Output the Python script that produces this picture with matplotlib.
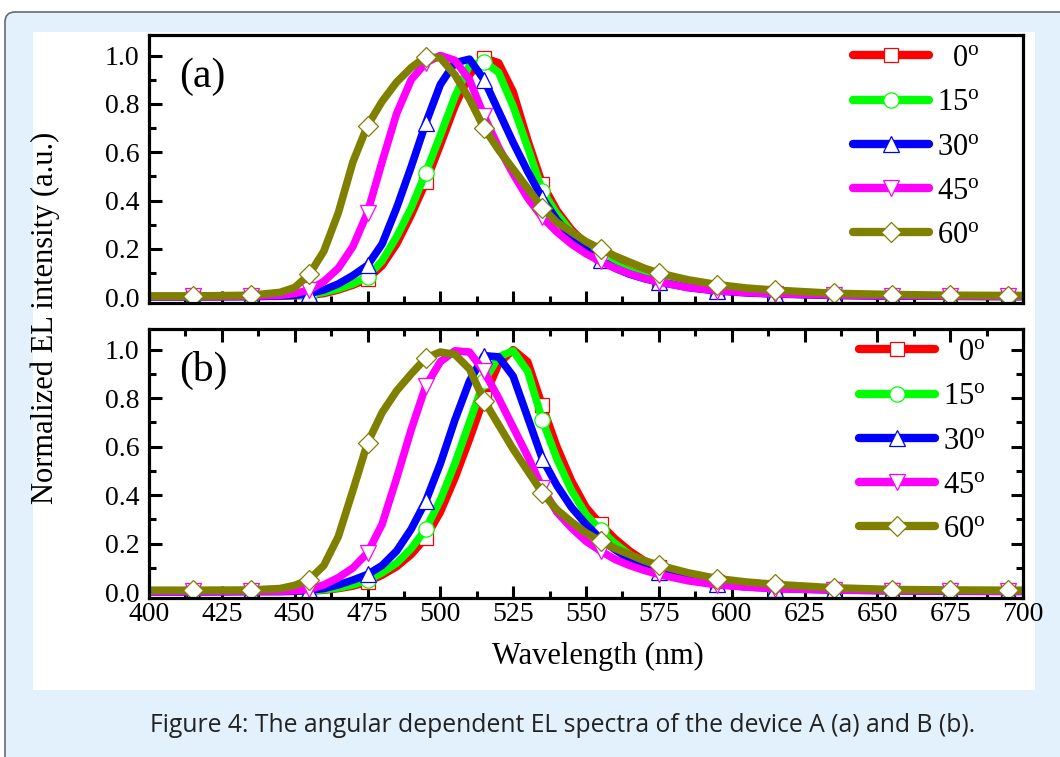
import matplotlib
matplotlib.use("Agg")
import matplotlib.pyplot as plt
from matplotlib.lines import Line2D
from matplotlib.patches import FancyBboxPatch, Rectangle
from matplotlib.transforms import IdentityTransform
from matplotlib.ticker import MultipleLocator

plt.rcParams['font.family'] = ['Liberation Serif', 'DejaVu Serif']
plt.rcParams['mathtext.fontset'] = 'custom'
plt.rcParams['mathtext.rm'] = 'Liberation Serif'
plt.rcParams['mathtext.it'] = 'Liberation Serif:italic'

# ---------------- data ----------------
wavelength = [400, 415, 435, 445, 450, 455, 460, 465, 470, 475, 480, 485, 490, 495, 500,
              505, 510, 515, 520, 525, 530, 535, 540, 545, 550, 555, 560, 565, 570, 575,
              585, 595, 605, 615, 635, 655, 675, 695, 700]
marker_wavelengths = [415, 435, 455, 475, 495, 515, 535, 555, 575, 595, 615, 635, 655, 675, 695]
angle_labels = ['  0$^{\\rm o}$', '15$^{\\rm o}$', '30$^{\\rm o}$', '45$^{\\rm o}$', '60$^{\\rm o}$']

a_0 = [0.002, 0.002, 0.003, 0.004, 0.006, 0.008, 0.015, 0.03, 0.05, 0.075, 0.13, 0.22, 0.34, 0.475, 0.63,
       0.79, 0.92, 0.99, 0.97, 0.85, 0.65, 0.47, 0.36, 0.28, 0.22, 0.175, 0.14, 0.11, 0.09, 0.073,
       0.047, 0.031, 0.021, 0.015, 0.008, 0.005, 0.004, 0.003, 0.003]
a_15 = [0.002, 0.002, 0.003, 0.005, 0.007, 0.01, 0.02, 0.035, 0.055, 0.085, 0.15, 0.25, 0.37, 0.515, 0.67,
        0.83, 0.96, 0.975, 0.93, 0.79, 0.62, 0.44, 0.345, 0.27, 0.21, 0.17, 0.135, 0.108, 0.087, 0.07,
        0.045, 0.03, 0.02, 0.014, 0.008, 0.005, 0.004, 0.003, 0.003]
a_30 = [0.002, 0.002, 0.003, 0.005, 0.008, 0.015, 0.03, 0.055, 0.09, 0.132, 0.22, 0.37, 0.54, 0.72, 0.88,
        0.97, 0.985, 0.90, 0.77, 0.64, 0.52, 0.41, 0.32, 0.25, 0.195, 0.152, 0.12, 0.095, 0.077, 0.063,
        0.04, 0.026, 0.018, 0.013, 0.008, 0.005, 0.004, 0.003, 0.003]
a_45 = [0.003, 0.003, 0.004, 0.008, 0.015, 0.03, 0.065, 0.12, 0.21, 0.35, 0.56, 0.76, 0.90, 0.97, 1.0,
        0.98, 0.90, 0.75, 0.62, 0.51, 0.41, 0.33, 0.27, 0.22, 0.18, 0.148, 0.12, 0.097, 0.078, 0.063,
        0.04, 0.027, 0.019, 0.014, 0.009, 0.006, 0.005, 0.004, 0.004]
a_60 = [0.005, 0.005, 0.008, 0.02, 0.04, 0.094, 0.19, 0.35, 0.56, 0.71, 0.81, 0.89, 0.95, 0.995, 0.99,
        0.92, 0.82, 0.70, 0.61, 0.53, 0.45, 0.37, 0.31, 0.27, 0.23, 0.20, 0.17, 0.145, 0.12, 0.10,
        0.072, 0.052, 0.038, 0.029, 0.016, 0.011, 0.008, 0.007, 0.007]

b_0 = [0.002, 0.002, 0.003, 0.003, 0.004, 0.005, 0.008, 0.015, 0.025, 0.042, 0.07, 0.105, 0.155, 0.224, 0.33,
       0.47, 0.63, 0.80, 0.94, 1.0, 0.95, 0.77, 0.60, 0.46, 0.35, 0.28, 0.22, 0.17, 0.13, 0.103,
       0.065, 0.044, 0.03, 0.021, 0.012, 0.008, 0.006, 0.005, 0.005]
b_15 = [0.002, 0.002, 0.003, 0.003, 0.004, 0.006, 0.01, 0.018, 0.03, 0.05, 0.08, 0.12, 0.18, 0.26, 0.38,
        0.53, 0.70, 0.87, 0.97, 0.995, 0.91, 0.71, 0.55, 0.42, 0.32, 0.255, 0.2, 0.155, 0.12, 0.095,
        0.06, 0.04, 0.027, 0.019, 0.011, 0.007, 0.005, 0.004, 0.004]
b_30 = [0.002, 0.002, 0.003, 0.003, 0.004, 0.008, 0.015, 0.03, 0.05, 0.073, 0.11, 0.17, 0.26, 0.375, 0.53,
        0.71, 0.87, 0.975, 0.97, 0.89, 0.72, 0.55, 0.44, 0.35, 0.28, 0.22, 0.175, 0.135, 0.105, 0.083,
        0.052, 0.033, 0.022, 0.015, 0.009, 0.006, 0.004, 0.003, 0.003]
b_45 = [0.003, 0.003, 0.004, 0.004, 0.006, 0.012, 0.03, 0.06, 0.10, 0.162, 0.28, 0.47, 0.67, 0.85, 0.95,
        0.995, 0.99, 0.91, 0.80, 0.68, 0.56, 0.43, 0.33, 0.265, 0.21, 0.17, 0.135, 0.11, 0.09, 0.073,
        0.047, 0.03, 0.021, 0.015, 0.009, 0.006, 0.005, 0.004, 0.004]
b_60 = [0.008, 0.008, 0.009, 0.015, 0.028, 0.052, 0.11, 0.23, 0.42, 0.615, 0.74, 0.83, 0.90, 0.965, 0.99,
        0.98, 0.92, 0.79, 0.69, 0.59, 0.50, 0.41, 0.34, 0.29, 0.245, 0.21, 0.18, 0.155, 0.13, 0.111,
        0.08, 0.056, 0.042, 0.032, 0.018, 0.011, 0.009, 0.008, 0.008]

panel_a = [a_0, a_15, a_30, a_45, a_60]
panel_b = [b_0, b_15, b_30, b_45, b_60]

# ---------------- style ----------------
colors = ['#FF0000', '#00FF00', '#0000FF', '#FF00FF', '#808000']
markers = ['s', 'o', '^', 'v', 'D']
msizes = [10, 11, 11, 11, 10]

W, H = 1060, 757
fig = plt.figure(figsize=(W / 100, H / 100), dpi=100)
fig.patch.set_facecolor('white')

# page background box and white image area
bg = FancyBboxPatch((5, -30), 1100, H - 12 + 30, boxstyle="round,pad=0,rounding_size=10",
                    transform=IdentityTransform(), facecolor='#E2F1FB', edgecolor='#6a6a6a',
                    linewidth=1.2, zorder=-10)
fig.patches.append(bg)
white = Rectangle((33 / W, 1 - 690 / H), (1035 - 33) / W, (690 - 32) / H,
                  transform=fig.transFigure, facecolor='white', edgecolor='none', zorder=-9)
fig.patches.append(white)

mark_idx = [wavelength.index(w) for w in marker_wavelengths]


def make_axes(rect, data, tag, show_xlabels, all_ticks, leg_anchor):
    ax = fig.add_axes(rect)
    for ser, c, m, ms in zip(data, colors, markers, msizes):
        ax.plot(wavelength, ser, color=c, lw=5.5, solid_capstyle='round', solid_joinstyle='round',
                marker=m, markersize=ms, markerfacecolor='white', markeredgecolor=c,
                markeredgewidth=0.9, markevery=mark_idx)
    ax.set_xlim(400, 700)
    ax.set_ylim(-0.024, 1.085)
    ax.xaxis.set_major_locator(MultipleLocator(25))
    ax.xaxis.set_minor_locator(MultipleLocator(12.5))
    ax.yaxis.set_major_locator(MultipleLocator(0.2))
    ax.yaxis.set_minor_locator(MultipleLocator(0.1))
    ax.yaxis.set_major_formatter(matplotlib.ticker.FormatStrFormatter('%.1f'))
    for s in ax.spines.values():
        s.set_linewidth(2.3)
    ax.tick_params(which='both', direction='in', top=all_ticks, right=all_ticks,
                   labelsize=20, width=2.2)
    ax.tick_params(axis='y', pad=7)
    ax.tick_params(axis='x', pad=3)
    ax.tick_params(which='major', length=9)
    ax.tick_params(which='minor', length=5)
    ax.tick_params(axis='x', labelbottom=show_xlabels)
    ax.text(0.035, 0.845, tag, transform=ax.transAxes, fontsize=30, va='center', ha='left')
    handles = [Line2D([], [], color=c, lw=6, marker=m, markersize=ms, markerfacecolor='white',
                      markeredgecolor=c, markeredgewidth=0.9, solid_capstyle='round')
               for c, m, ms in zip(colors, markers, msizes)]
    ax.legend(handles, angle_labels, loc='upper left', bbox_to_anchor=leg_anchor,
              bbox_transform=fig.transFigure, frameon=False, fontsize=22, handlelength=2.5,
              handletextpad=0.25, labelspacing=0.5, borderpad=0, borderaxespad=0)
    return ax


ax_a = make_axes([149 / W, 1 - 303 / H, 874 / W, 268 / H], panel_a, '(a)', False, False,
                 (853 / W, 1 - 44 / H))
ax_b = make_axes([149 / W, 1 - 598 / H, 874 / W, 269 / H], panel_b, '(b)', True, True,
                 (859 / W, 1 - 338 / H))

fig.text(45 / W, 1 - 318 / H, 'Normalized EL intensity (a.u.)', rotation=90, fontsize=22,
         ha='center', va='center')
fig.text(598 / W, 1 - 656 / H, 'Wavelength (nm)', fontsize=22, ha='center', va='center')

fig.text(563 / W, 1 - 726 / H,
         'Figure 4: The angular dependent EL spectra of the device A (a) and B (b).',
         family=['Open Sans', 'DejaVu Sans'], fontsize=17.8,
         color='#222222', ha='center', va='center')

fig.savefig('out.png', dpi=100, facecolor=fig.get_facecolor())
